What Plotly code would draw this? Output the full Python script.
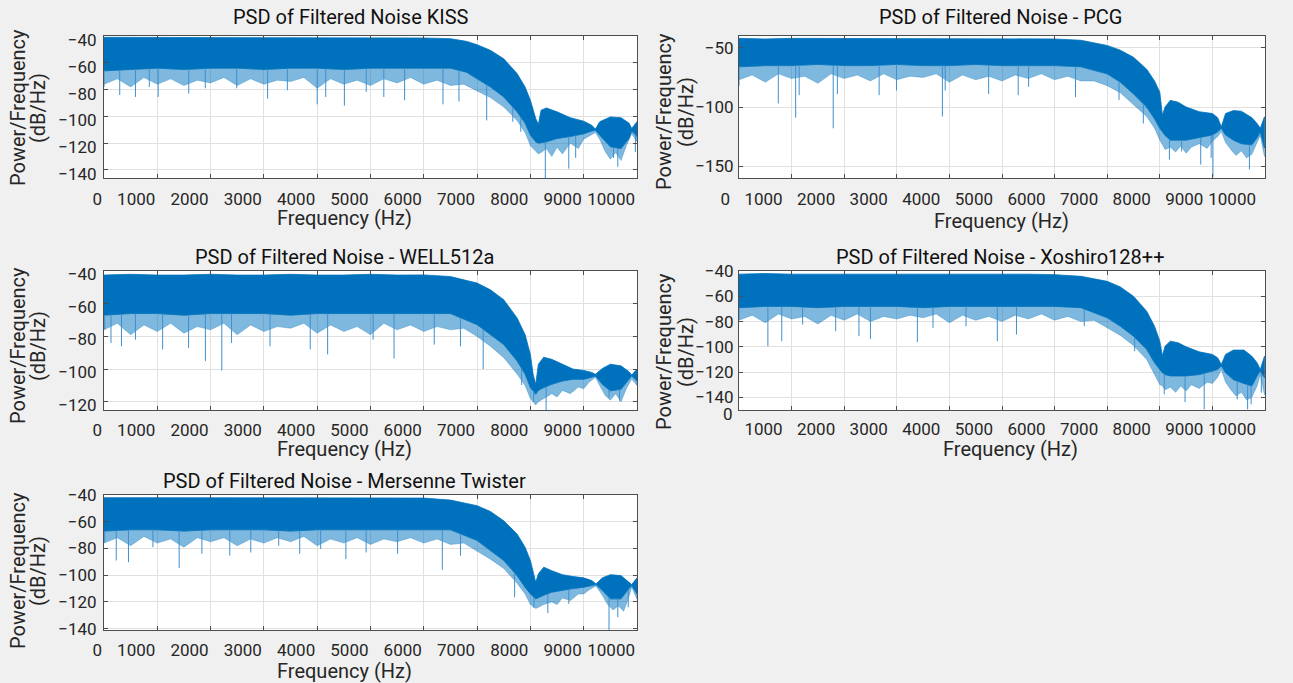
import numpy as np
import plotly.graph_objects as go

W, H = 1293, 683

# ---------------- data ----------------
FLAT_F = [0, 500, 1000, 1500, 2000, 2500, 3000, 3500, 4000, 4500, 5000, 5500, 6000, 6500]
FRINGE_FLAT_F = [0, 250, 500, 750, 1000, 1250, 1500, 1750, 2000, 2250, 2500, 2750, 3000, 3250,
                 3500, 3750, 4000, 4250, 4500, 4750, 5000, 5250, 5500, 5750, 6000, 6250, 6500, 6750]

# KISS
kiss_freq = FLAT_F + [6800, 7000, 7250, 7500, 7750, 7900, 8000, 8100, 8150, 8200, 8300, 8500, 8750, 9000, 9150, 9220, 9300, 9500, 9700, 9850, 9900, 10000]
kiss_top = [-41, -41, -41.5, -41, -41, -41.5, -41, -41, -41.5, -41, -41.5, -41, -41.5, -42,
            -44, -46.5, -50.7, -57, -68, -78, -88, -101.6, -106, -95.4, -93.7, -96.6, -101, -103.6, -106.6, -109.5, -104, -100.4, -101, -105, -109, -104]
kiss_core = [-66, -65, -64, -65, -64, -64, -65, -64, -64, -65, -64, -64, -64, -64,
             -67, -72, -78, -85.5, -96.6, -105, -114, -119, -120, -119.5, -119, -116.5, -115, -113, -111, -110.3, -114, -122.7, -124, -116.5, -111, -115]
kiss_fringe_f = FRINGE_FLAT_F + [7000, 7250, 7500, 7750, 7900, 8000, 8100, 8150, 8200, 8300, 8400, 8500, 8600, 8750, 8900, 9000, 9100, 9220, 9300, 9400, 9500, 9600, 9700, 9800, 9900, 10000]
kiss_fringe = [-76, -72, -78, -71, -76, -72, -77, -73, -75, -71, -77, -72, -76, -73, -74, -71, -79, -72, -76, -73, -77, -72, -75, -71, -76, -73, -77, -76,
               -81, -86, -93, -103, -112, -122, -126, -128, -127, -124, -130, -123, -128, -120, -124, -117, -115, -112, -117, -126, -132, -127, -133, -122, -113, -119]
kiss_spike_f = [0, 295, 590, 850, 1016, 1590, 1900, 2490, 3070, 3440, 4000, 4160, 4510, 4920, 5250, 5640, 6360, 6660, 7180, 7670, 7820, 8280, 8720, 8850, 9560, 9640, 9970]
kiss_spike_db = [-78, -84, -85.5, -78, -85.5, -83, -79, -79, -86.7, -80.5, -91, -85.5, -92, -81.7, -85.5, -88, -91, -89, -103, -104, -111.5, -146, -139, -131, -131, -137.6, -126.5]

# PCG
pcg_freq = FLAT_F + [7000, 7250, 7500, 7750, 7900, 8000, 8050, 8100, 8200, 8350, 8500, 8750, 9000, 9100, 9170, 9250, 9400, 9550, 9750, 9850, 9910, 9990]
pcg_top = [-42, -42.5, -42, -42, -42.5, -42, -42, -42.5, -42, -42, -42.5, -42, -42.5, -43.6,
           -48, -52, -58, -68, -78, -87.5, -107, -100, -94.4, -96, -100, -104, -105.5, -109, -116.7, -105.5, -103, -103.6, -109, -114, -118, -108.3]
pcg_core = [-66, -65, -65, -64, -65, -65, -64, -65, -65, -64, -65, -65, -65, -66,
            -72, -79, -89, -100, -110, -118, -121, -124, -128, -128, -128, -126, -123.6, -121, -118, -123.6, -128, -131, -132, -126, -121, -134.7]
pcg_fringe_f = FRINGE_FLAT_F + [7000, 7250, 7500, 7750, 7900, 8000, 8050, 8100, 8200, 8300, 8400, 8500, 8600, 8750, 8900, 9000, 9100, 9170, 9250, 9350, 9450, 9550, 9650, 9750, 9850, 9910, 9990]
pcg_fringe = [-77, -73, -79, -72, -76, -74, -80, -72, -76, -73, -78, -72, -77, -74, -75, -72, -79, -73, -77, -74, -78, -73, -76, -72, -77, -74, -78, -78,
              -82, -88, -98, -108, -118, -128, -132, -136, -134, -138, -133, -139, -134, -131, -135, -129, -125, -121, -130, -136, -141, -137, -143, -140, -130, -124, -142]
pcg_spike_f = [0, 747, 1077, 1144, 1791, 1870, 2664, 2994, 3867, 3920, 4746, 5308, 5506, 6398, 7225, 7687, 8183, 8415, 8778, 8976, 9010, 9704]
pcg_spike_db = [-82, -97, -109, -90, -118, -89, -90, -86, -108, -86, -89, -90, -83, -91.7, -94, -114, -144.4, -137.5, -148.6, -143, -159, -152.8]

# WELL512a
well_freq = FLAT_F + [7000, 7250, 7500, 7750, 7900, 8000, 8050, 8100, 8150, 8250, 8400, 8600, 8800, 9000, 9150, 9220, 9350, 9500, 9700, 9850, 9900, 10000]
well_top = [-42.5, -42, -42.5, -42.5, -42, -42.5, -42.5, -42, -42.5, -42.5, -42, -42.5, -42.4, -43.4,
            -47.4, -51.5, -57.6, -68.7, -78.9, -91, -103, -109.3, -97, -92.7, -94, -97, -100, -100.8, -102, -103.2, -99.6, -97, -98, -101.6, -103.6, -100]
well_core = [-67, -66, -66, -67, -66, -66, -66, -67, -66, -66, -66, -66, -66, -66,
             -72.8, -79, -85, -95, -103, -111.3, -113, -115.4, -113, -111.3, -109.3, -107.3, -106.2, -106.2, -105, -104.2, -109.3, -113.3, -112.3, -106.2, -104.2, -107.3]
well_fringe_f = FRINGE_FLAT_F + [7000, 7250, 7500, 7750, 7900, 8000, 8050, 8100, 8150, 8250, 8400, 8500, 8600, 8750, 8900, 9000, 9100, 9220, 9300, 9400, 9500, 9600, 9700, 9800, 9900, 10000]
well_fringe = [-76, -72, -79, -73, -77, -72, -78, -74, -76, -72, -79, -73, -77, -74, -75, -72, -78, -73, -77, -74, -79, -72, -76, -73, -77, -74, -76, -75,
               -80, -86, -93, -103, -110, -118, -120, -122, -120, -118, -115, -117, -113, -115, -111, -112, -108, -105, -110, -116, -119, -115, -120, -112, -106, -110]
well_spike_f = [13, 131, 328, 590, 1100, 1587, 1902, 2210, 2393, 3115, 3869, 4196, 5049, 5442, 6196, 6688, 7114, 7836, 8060, 8295, 9475, 9672]
well_spike_db = [-75.8, -84, -86, -82, -88, -87, -95, -100.8, -84, -86, -88, -91, -82, -93.5, -85, -86, -100, -109.7, -120, -125, -117.4, -119.4]

# Xoshiro128++
xosh_freq = FLAT_F + [7000, 7250, 7500, 7750, 7900, 8000, 8050, 8100, 8200, 8350, 8500, 8750, 9000, 9100, 9170, 9250, 9400, 9600, 9750, 9850, 9910, 9990]
xosh_top = [-42.5, -42, -42.5, -42.5, -42, -42.5, -42.5, -42, -42.5, -42.5, -42, -42.5, -42.9, -44.2,
            -48.2, -52.6, -60, -71.8, -83.7, -95.5, -107, -99.5, -95.5, -96.8, -100, -104, -106, -108.7, -114, -106, -102.6, -102.6, -107.4, -112.6, -118, -107.4]
xosh_core = [-69, -68, -68, -69, -68, -68, -68, -69, -68, -68, -68, -68, -68, -69,
             -77, -83.7, -91.6, -102, -112.6, -118, -120.5, -122, -123, -123, -123, -122, -119, -118, -115, -120.5, -126, -129, -131, -123, -119, -124.5]
xosh_fringe_f = FRINGE_FLAT_F + [7000, 7250, 7500, 7750, 7900, 8000, 8050, 8100, 8200, 8300, 8400, 8500, 8600, 8750, 8900, 9000, 9100, 9170, 9250, 9350, 9450, 9550, 9650, 9750, 9850, 9910, 9990]
xosh_fringe = [-79, -75, -81, -74, -78, -76, -82, -75, -79, -74, -80, -76, -78, -75, -77, -74, -81, -75, -79, -76, -80, -75, -78, -74, -79, -76, -80, -79,
               -85, -91, -99, -110, -122, -130, -131, -134, -132, -136, -131, -135, -130, -133, -128, -129, -124, -118, -128, -134, -139, -136, -142, -140, -131, -122, -138]
xosh_spike_f = [0, 549, 813, 1210, 1838, 2280, 2499, 3391, 3688, 4316, 4911, 5275, 6564, 7522, 8084, 8480, 8844, 9472, 9670, 9736, 9930]
xosh_spike_db = [-78.4, -99.5, -95.5, -82.4, -87.6, -91.6, -93.7, -96.3, -85, -83.7, -95.5, -90.3, -83.7, -103.4, -137.6, -143.7, -149.5, -141.6, -149.5, -145.5, -136.3]

# Mersenne Twister
mt_freq = FLAT_F + [7000, 7250, 7500, 7750, 7900, 8000, 8100, 8150, 8250, 8400, 8600, 8800, 9000, 9150, 9230, 9350, 9500, 9700, 9850, 9900, 10000]
mt_top = [-42, -42, -42.5, -42, -42, -42.5, -42, -42, -42.5, -42, -42, -42.5, -42.3, -43.8,
          -48, -52.3, -59.3, -69.2, -79, -89, -105.3, -99, -94, -96.6, -99.6, -101, -102, -104, -106.5, -102, -99.6, -100.3, -105.3, -107, -102]
mt_core = [-67, -66, -66, -67, -66, -66, -66, -67, -66, -66, -66, -66, -66, -66,
           -74, -81.6, -89, -100.3, -109, -114, -117.7, -117, -115, -112.7, -111.5, -110, -109, -107.8, -107, -111.5, -117.7, -117.7, -110, -107.8, -114]
mt_fringe_f = FRINGE_FLAT_F + [7000, 7250, 7500, 7750, 7900, 8000, 8100, 8150, 8250, 8400, 8500, 8600, 8750, 8900, 9000, 9100, 9230, 9350, 9450, 9550, 9650, 9750, 9850, 9900, 10000]
mt_fringe = [-76, -72, -78, -71, -76, -73, -79, -72, -75, -72, -78, -73, -76, -72, -75, -71, -78, -73, -76, -72, -77, -73, -75, -72, -76, -73, -77, -76,
             -82, -88, -95, -106, -114, -122, -125, -124, -122, -120, -122, -117, -119, -114, -114, -111, -108, -115, -122, -126, -123, -127, -116, -109, -118]
mt_spike_f = [13, 230, 459, 918, 1410, 1836, 2360, 2754, 3278, 3672, 4065, 4538, 4918, 5508, 6347, 6688, 7704, 8065, 8327, 8720, 9475, 9640, 9835]
mt_spike_db = [-75.4, -89, -90.3, -79, -94.6, -84, -85.4, -83, -78, -84, -80.4, -87.9, -83, -84, -96, -85.4, -116.5, -124.4, -128.4, -121.4, -141, -131.4, -124]

titles = ["PSD of Filtered Noise KISS", "PSD of Filtered Noise - PCG",
          "PSD of Filtered Noise - WELL512a", "PSD of Filtered Noise - Xoshiro128++",
          "PSD of Filtered Noise - Mersenne Twister"]
x_label = "Frequency (Hz)"
y_label_1 = "Power/Frequency"
y_label_2 = "(dB/Hz)"
x_ticks_full = [0, 1000, 2000, 3000, 4000, 5000, 6000, 7000, 8000, 9000, 10000]
x_ticks_xosh = [1000, 2000, 3000, 4000, 5000, 6000, 7000, 8000, 9000, 10000]

# ---------------- layout geometry (pixels) ----------------
panels = [
    dict(f=kiss_freq, top=kiss_top, core=kiss_core, ff=kiss_fringe_f, fringe=kiss_fringe, sf=kiss_spike_f, sd=kiss_spike_db,
         box=(104, 637, 36, 178), xr=[0, 10000], yr=[-146, -40], yt=[-140, -120, -100, -80, -60, -40], xt=x_ticks_full,
         title=(351, 17), xtitle=(345, 218), ylab=(18, 38, 108), shift=-1, stand=6, yshift=4),
    dict(f=pcg_freq, top=pcg_top, core=pcg_core, ff=pcg_fringe_f, fringe=pcg_fringe, sf=pcg_spike_f, sd=pcg_spike_db,
         box=(739, 1265, 36, 178), xr=[0, 10000], yr=[-160, -40], yt=[-150, -100, -50], xt=x_ticks_full,
         title=(1000, 17), xtitle=(1001, 221), ylab=(664, 686, 112), shift=-8, stand=6, yshift=0),
    dict(f=well_freq, top=well_top, core=well_core, ff=well_fringe_f, fringe=well_fringe, sf=well_spike_f, sd=well_spike_db,
         box=(104, 637, 271, 410), xr=[0, 10000], yr=[-125, -40], yt=[-120, -100, -80, -60, -40], xt=x_ticks_full,
         title=(344, 257), xtitle=(344, 449), ylab=(18, 38, 346), shift=-1, stand=5, yshift=3),
    dict(f=xosh_freq, top=xosh_top, core=xosh_core, ff=xosh_fringe_f, fringe=xosh_fringe, sf=xosh_spike_f, sd=xosh_spike_db,
         box=(739, 1265, 271, 410), xr=[0, 10000], yr=[-150, -40], yt=[-140, -120, -100, -80, -60, -40], xt=x_ticks_xosh,
         title=(1000, 257), xtitle=(1010, 449), ylab=(664, 686, 352), shift=-8, stand=4, yshift=0),
    dict(f=mt_freq, top=mt_top, core=mt_core, ff=mt_fringe_f, fringe=mt_fringe, sf=mt_spike_f, sd=mt_spike_db,
         box=(104, 637, 495, 630), xr=[0, 10000], yr=[-141, -40], yt=[-140, -120, -100, -80, -60, -40], xt=x_ticks_full,
         title=(345, 481), xtitle=(345, 671), ylab=(18, 38, 571), shift=-1, stand=5, yshift=0),
]

BLUE = "#0072BD"
FRINGE = "rgba(0,114,189,0.5)"
SPIKE = "#3D8FD0"
FONT = "Roboto"
TXT = "#262626"
AXC = "#4D4D4D"
GRID = "#E0E0E0"

fig = go.Figure()
annotations = []
layout_axes = {}


def px(x):
    return x / W


def py(y):
    return 1 - y / H


for i, p in enumerate(panels):
    n = i + 1
    xa = "x" if n == 1 else f"x{n}"
    ya = "y" if n == 1 else f"y{n}"
    f = np.array(p["f"], dtype=float)
    top = np.array(p["top"], dtype=float)
    core = np.array(p["core"], dtype=float)
    ff = np.array(p["ff"], dtype=float)
    fringe = np.array(p["fringe"], dtype=float)

    # lighter, sparser region below the dense band
    fig.add_trace(go.Scatter(x=np.concatenate([f, ff[::-1]]), y=np.concatenate([core, fringe[::-1]]),
                             fill="toself", fillcolor=FRINGE, line=dict(width=0.6, color=FRINGE),
                             mode="lines", xaxis=xa, yaxis=ya, showlegend=False, hoverinfo="skip"))
    # dense band
    fig.add_trace(go.Scatter(x=np.concatenate([f, f[::-1]]), y=np.concatenate([top, core[::-1]]),
                             fill="toself", fillcolor=BLUE, line=dict(width=0.8, color=BLUE),
                             mode="lines", xaxis=xa, yaxis=ya, showlegend=False, hoverinfo="skip"))
    # deep spikes
    sx, sy = [], []
    for fs, ds in zip(p["sf"], p["sd"]):
        start = float(np.interp(fs, f, core))
        sx += [fs, fs, None]
        sy += [start, ds, None]
    fig.add_trace(go.Scatter(x=sx, y=sy, mode="lines", line=dict(width=1, color=SPIKE),
                             xaxis=xa, yaxis=ya, showlegend=False, hoverinfo="skip"))

    x0, x1, y0, y1 = p["box"]
    xkey = "xaxis" if n == 1 else f"xaxis{n}"
    ykey = "yaxis" if n == 1 else f"yaxis{n}"
    layout_axes[xkey] = dict(
        domain=[px(x0), px(x1)], anchor=ya, range=p["xr"], tickvals=p["xt"],
        ticktext=[str(v) for v in p["xt"]], automargin=False,
        showgrid=True, gridcolor=GRID, gridwidth=1, zeroline=False,
        showline=True, linecolor=AXC, linewidth=1, mirror="ticks",
        ticks="inside", ticklen=4, tickcolor=AXC,
        ticklabelposition="outside left", ticklabelshift=p["shift"], ticklabelstandoff=p["stand"],
        tickfont=dict(family=FONT, size=17, color=TXT),
    )
    layout_axes[ykey] = dict(
        domain=[py(y1), py(y0)], anchor=xa, range=p["yr"], tickvals=p["yt"], automargin=False,
        showgrid=True, gridcolor=GRID, gridwidth=1, zeroline=False,
        showline=True, linecolor=AXC, linewidth=1, mirror="ticks",
        ticks="inside", ticklen=4, tickcolor=AXC,
        tickfont=dict(family=FONT, size=17, color=TXT),
        ticklabelstandoff=3 if x0 < 600 else 1,
        ticklabelshift=p["yshift"],
    )

    tx, ty = p["title"]
    annotations.append(dict(text=titles[i], x=px(tx), y=py(ty), xref="paper", yref="paper",
                            showarrow=False, xanchor="center", yanchor="middle",
                            font=dict(family=FONT, size=20, color="#111111")))
    ax_, ay_ = p["xtitle"]
    annotations.append(dict(text=x_label, x=px(ax_), y=py(ay_), xref="paper", yref="paper",
                            showarrow=False, xanchor="center", yanchor="middle",
                            font=dict(family=FONT, size=20, color=TXT)))
    l1, l2, yc = p["ylab"]
    annotations.append(dict(text=y_label_1, x=px(l1), y=py(yc), xref="paper", yref="paper",
                            showarrow=False, xanchor="center", yanchor="middle", textangle=-90,
                            font=dict(family=FONT, size=20, color=TXT)))
    annotations.append(dict(text=y_label_2, x=px(l2), y=py(yc), xref="paper", yref="paper",
                            showarrow=False, xanchor="center", yanchor="middle", textangle=-90,
                            font=dict(family=FONT, size=20, color=TXT)))

# stray "0" label below the Xoshiro y-axis
annotations.append(dict(text="0", x=px(735), y=py(414), xref="paper", yref="paper",
                        showarrow=False, xanchor="right", yanchor="middle",
                        font=dict(family=FONT, size=17, color=TXT)))

fig.update_layout(
    width=W, height=H, margin=dict(l=0, r=0, t=0, b=0, autoexpand=False),
    paper_bgcolor="#F0F0F0", plot_bgcolor="#FFFFFF",
    annotations=annotations, showlegend=False,
    **layout_axes,
)

fig.write_html("out.html")
